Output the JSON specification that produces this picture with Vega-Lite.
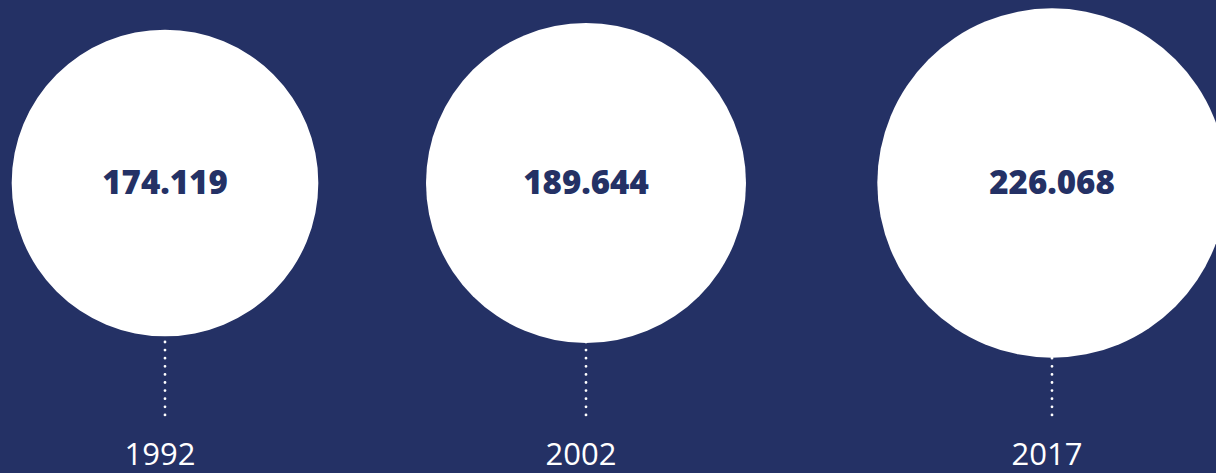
{
  "$schema": "https://vega.github.io/schema/vega-lite/v6.json",
  "autosize": {"type": "none"},
  "width": 1216,
  "height": 237,
  "padding": {"top": 183, "left": 0, "right": 0, "bottom": 53},
  "background": "#243165",
  "config": {
    "view": {"stroke": null},
    "locale": {"number": {"decimal": ",", "thousands": ".", "grouping": [3], "currency": ["", " €"]}}
  },
  "data": {
    "values": [
      {"year": 1992, "value": 174119},
      {"year": 2002, "value": 189644},
      {"year": 2017, "value": 226068}
    ]
  },
  "encoding": {
    "x": {
      "field": "year",
      "type": "quantitative",
      "scale": {"domain": [1992, 2002, 2017], "range": [165, 586, 1052], "nice": false, "zero": false},
      "axis": null
    }
  },
  "layer": [
    {
      "mark": {"type": "rule", "color": "#ffffff", "strokeWidth": 2.8, "strokeDash": [0, 8.1], "strokeCap": "round", "strokeDashOffset": 3},
      "encoding": {
        "y": {"datum": 1, "type": "quantitative", "scale": {"domain": [0, 1]}, "axis": null},
        "y2": {"datum": 0}
      }
    },
    {
      "mark": {"type": "point", "shape": "circle", "filled": true, "color": "#ffffff", "opacity": 1, "strokeWidth": 0},
      "encoding": {
        "y": {"datum": 1, "type": "quantitative"},
        "size": {
          "field": "value",
          "type": "quantitative",
          "scale": {"domain": [0, 226068], "range": [0, 122080]},
          "legend": null
        }
      }
    },
    {
      "mark": {"type": "text", "font": "Open Sans", "fontSize": 33, "fontWeight": 800, "color": "#243165", "baseline": "middle", "align": "center", "dy": 1},
      "encoding": {
        "y": {"datum": 1, "type": "quantitative"},
        "text": {"field": "value", "type": "quantitative", "format": ",d"}
      }
    },
    {
      "mark": {"type": "text", "font": "Open Sans", "fontSize": 31, "fontWeight": 400, "color": "#ffffff", "baseline": "alphabetic", "align": "center", "dy": 45, "dx": -5},
      "encoding": {
        "y": {"datum": 0, "type": "quantitative"},
        "text": {"field": "year", "type": "quantitative", "format": "d"}
      }
    }
  ]
}
